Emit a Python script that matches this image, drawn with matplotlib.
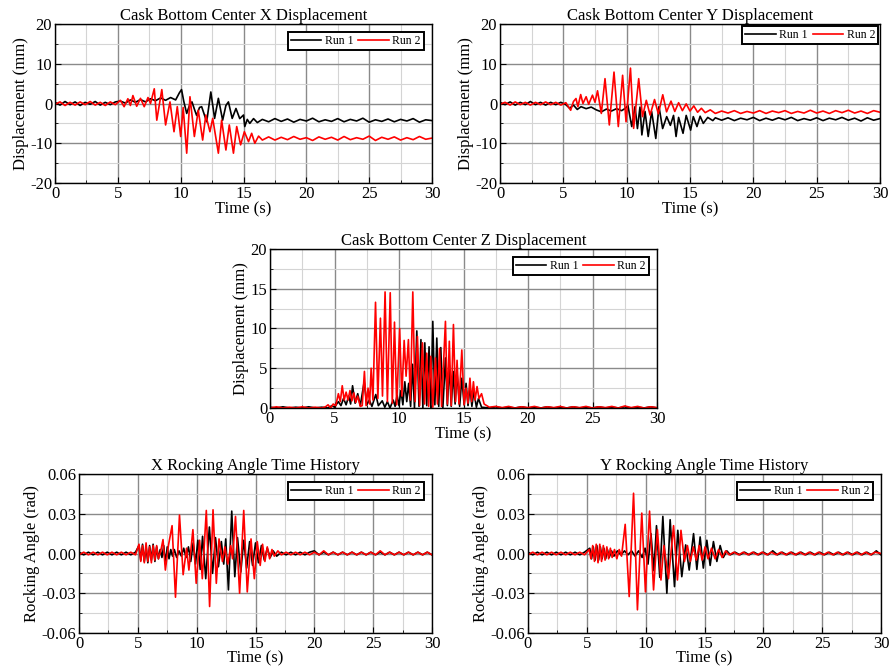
import matplotlib
matplotlib.use("Agg")
import matplotlib.pyplot as plt
from matplotlib.ticker import MultipleLocator, FormatStrFormatter

plt.rcParams['font.family'] = ['Liberation Serif', 'DejaVu Serif']
plt.rcParams['axes.unicode_minus'] = False

# ---- data: (time s, value) ----
# X displacement (mm)
xd_run1 = [(0, 0.3), (0.4, -0.4), (0.8, 0.5), (1.2, -0.3), (1.6, 0.4), (2.0, -0.5), (2.4, 0.3), (2.8, -0.2),
           (3.2, 0.5), (3.6, -0.4), (4.0, 0.3), (4.4, -0.3), (4.8, 0.4), (5.2, 0.6), (5.6, 0.1), (6.0, 0.9),
           (6.4, 0.3), (6.8, 1.0), (7.2, 0.4), (7.6, 1.2), (8.0, 0.7), (8.4, 1.4), (8.8, 0.8), (9.2, 1.5),
           (9.6, 0.9), (9.9, 2.7), (10.07, 3.5), (10.25, 0.5), (10.48, -2.5), (10.7, -0.5), (10.9, 0.4),
           (11.1, -1.5), (11.27, -3.0), (11.5, -1.0), (11.67, -0.8), (11.85, -2.5), (12.07, -4.6), (12.4, 2.9),
           (12.7, -3.75), (13.0, 1.3), (13.34, -4.2), (13.6, -0.5), (13.8, 0.4), (14.1, -3.75), (14.4, -1.25),
           (14.7, -3.8), (15.0, -2.9), (15.1, -5.8), (15.3, -4.0), (15.5, -5.0), (15.8, -3.8), (16.1, -4.8),
           (16.5, -4.0), (17.0, -4.6), (17.5, -3.8), (18.0, -4.5), (18.5, -3.9), (19.0, -4.7), (19.5, -4.0),
           (20.0, -4.4), (20.5, -3.7), (21.0, -4.6), (21.5, -4.1), (22.0, -4.5), (22.5, -3.8), (23.0, -4.6),
           (23.5, -4.0), (24.0, -4.4), (24.5, -3.7), (25.0, -4.7), (25.5, -4.1), (26.0, -4.5), (26.5, -3.9),
           (27.0, -4.6), (27.5, -4.0), (28.0, -4.4), (28.5, -3.8), (29.0, -4.7), (29.5, -4.1), (30.0, -4.3)]
xd_run2 = [(0, -0.2), (0.4, 0.4), (0.8, -0.5), (1.2, 0.3), (1.6, -0.4), (2.0, 0.4), (2.4, -0.3), (2.8, 0.5),
           (3.2, -0.4), (3.6, 0.3), (4.0, -0.5), (4.4, 0.4), (4.8, -0.3), (5.2, 0.8), (5.5, -0.8), (5.8, 1.2),
           (6.0, -0.5), (6.2, 2.0), (6.5, -0.7), (6.8, 1.3), (7.1, -0.8), (7.4, 1.5), (7.6, 0.0), (7.9, 3.7),
           (8.1, -4.2), (8.5, 3.5), (8.8, -5.4), (9.15, 0.4), (9.47, -7.1), (9.73, -0.8), (10.0, -8.3),
           (10.2, -1.0), (10.48, -12.5), (10.74, 1.7), (11.09, -8.3), (11.4, -1.7), (11.75, -9.2), (12.0, -2.9),
           (12.33, -7.1), (12.55, -3.75), (13.0, -12.5), (13.26, -4.2), (13.6, -11.7), (13.87, -5.4),
           (14.2, -12.5), (14.46, -5.8), (14.77, -10.4), (15.07, -7.1), (15.4, -9.6), (15.65, -7.5),
           (15.9, -10.0), (16.2, -8.2), (16.5, -9.2), (17.0, -8.4), (17.5, -9.2), (18.0, -8.5), (18.5, -9.1),
           (19.0, -8.3), (19.5, -9.0), (20.0, -8.6), (20.5, -9.3), (21.0, -8.4), (21.5, -9.0), (22.0, -8.5),
           (22.5, -9.2), (23.0, -8.3), (23.5, -9.1), (24.0, -8.6), (24.5, -9.0), (25.0, -8.2), (25.5, -9.3),
           (26.0, -8.5), (26.5, -9.0), (27.0, -8.4), (27.5, -9.2), (28.0, -8.6), (28.5, -9.1), (29.0, -8.3),
           (29.5, -9.0), (30.0, -8.7)]

# Y displacement (mm)
yd_run1 = [(0, 0.3), (0.4, -0.3), (0.8, 0.4), (1.2, -0.4), (1.6, 0.3), (2.0, -0.3), (2.4, 0.5), (2.8, -0.3),
           (3.2, 0.3), (3.6, -0.4), (4.0, 0.3), (4.4, -0.3), (4.8, 0.3), (5.2, -0.3), (5.5, -1.2), (5.8, -0.4),
           (6.1, -1.5), (6.4, -0.8), (6.8, -1.3), (7.2, -0.9), (7.6, -1.6), (8.0, -2.1), (8.4, -1.4),
           (8.8, -1.9), (9.2, -1.3), (9.6, -1.8), (9.9, -1.2), (10.1, -0.5), (10.4, -5.8), (10.66, -0.8),
           (10.85, -6.3), (11.05, -0.9), (11.2, -7.9), (11.45, -2.0), (11.7, -8.3), (11.97, -2.0), (12.3, -8.8),
           (12.55, -0.8), (12.84, -6.3), (13.16, -3.3), (13.45, -5.5), (13.7, -3.0), (13.9, -8.3), (14.1, -3.5),
           (14.45, -7.5), (14.7, -3.0), (15.05, -6.7), (15.26, -3.3), (15.55, -5.8), (15.8, -3.2), (16.05, -5.0),
           (16.4, -3.5), (16.8, -4.3), (17.0, -3.6), (17.5, -4.2), (18.0, -3.6), (18.5, -4.3), (19.0, -3.7),
           (19.5, -4.1), (20.0, -3.5), (20.5, -4.3), (21.0, -3.7), (21.5, -4.2), (22.0, -3.6), (22.5, -4.1),
           (23.0, -3.5), (23.5, -4.3), (24.0, -3.8), (24.5, -4.2), (25.0, -3.6), (25.5, -4.3), (26.0, -3.7),
           (26.5, -4.1), (27.0, -3.5), (27.5, -4.2), (28.0, -3.7), (28.5, -4.4), (29.0, -3.6), (29.5, -4.2),
           (30.0, -3.8)]
yd_run2 = [(0, -0.2), (0.4, 0.3), (0.8, -0.4), (1.2, 0.4), (1.6, -0.3), (2.0, 0.3), (2.4, -0.4), (2.8, 0.3),
           (3.2, -0.3), (3.6, 0.4), (4.0, -0.3), (4.4, 0.3), (4.8, -0.4), (5.2, 0.2), (5.58, -1.7), (5.8, 0.5),
           (6.0, 1.25), (6.15, -0.8), (6.37, 2.25), (6.55, 0.0), (6.8, 1.7), (7.0, -0.2), (7.3, 2.1), (7.5, 0.3),
           (7.7, 3.2), (8.0, -2.5), (8.29, 6.25), (8.63, -5.4), (9.0, 7.9), (9.34, -5.8), (9.68, 7.1),
           (9.95, -4.6), (10.3, 8.9), (10.55, -6.25), (10.95, 6.25), (11.25, -3.3), (11.55, 0.8), (11.85, -2.9),
           (12.2, 1.0), (12.5, -2.6), (12.85, 2.2), (13.15, -2.1), (13.5, 0.6), (13.8, -2.0), (14.1, 0.2),
           (14.4, -1.8), (14.7, -0.1), (15.0, -1.9), (15.3, -0.6), (15.6, -2.2), (15.9, -1.2), (16.2, -2.3),
           (16.6, -1.6), (17.0, -2.5), (17.5, -1.9), (18.0, -2.4), (18.5, -1.8), (19.0, -2.5), (19.5, -2.0),
           (20.0, -2.4), (20.5, -1.8), (21.0, -2.5), (21.5, -1.9), (22.0, -2.3), (22.5, -1.8), (23.0, -2.5),
           (23.5, -2.0), (24.0, -2.4), (24.5, -1.7), (25.0, -2.4), (25.5, -1.9), (26.0, -2.5), (26.5, -1.8),
           (27.0, -2.3), (27.5, -1.7), (28.0, -2.4), (28.5, -1.9), (29.0, -2.5), (29.5, -1.8), (30.0, -2.2)]

# Z displacement (mm)
zd_run1 = [(0, 0.1), (0.5, 0.0), (1.0, 0.15), (1.5, 0.0), (2.0, 0.1), (2.5, 0.0), (3.0, 0.15), (3.5, 0.0),
           (4.0, 0.1), (4.5, 0.0), (4.8, 0.3), (5.0, 0.1), (5.3, 0.8), (5.5, 0.3), (5.7, 1.2), (5.9, 0.4),
           (6.1, 1.5), (6.25, 0.5), (6.4, 2.8), (6.6, 0.6), (6.8, 1.8), (7.0, 0.3), (7.3, 3.3), (7.5, 0.4),
           (7.7, 1.0), (7.9, 0.2), (8.2, 1.7), (8.4, 0.3), (8.7, 0.9), (8.9, 0.1), (9.1, 0.8), (9.3, 0.0),
           (9.55, 1.0), (9.7, 0.2), (9.85, 1.6), (10.0, 0.3), (10.15, 2.2), (10.3, 0.4), (10.45, 3.3), (10.6, 0.8),
           (10.75, 3.1), (10.9, 0.2), (11.05, 5.5), (11.2, 0.0), (11.38, 9.7), (11.55, 0.2), (11.7, 8.6),
           (11.85, 0.0), (12.0, 8.2), (12.15, 0.3), (12.33, 7.7), (12.47, 0.0), (12.62, 10.9), (12.78, 0.4),
           (12.93, 8.8), (13.08, 0.2), (13.24, 7.6), (13.4, 0.0), (13.6, 6.3), (13.75, 0.3), (13.9, 5.4),
           (14.05, 0.2), (14.2, 4.6), (14.35, 0.5), (14.5, 4.4), (14.7, 0.2), (14.87, 3.75), (15.05, 0.4),
           (15.2, 3.1), (15.35, 0.3), (15.5, 2.7), (15.65, 0.2), (15.8, 2.1), (16.0, 0.1), (16.16, 1.2),
           (16.4, 0.1), (17.0, 0.0), (17.5, 0.15), (18.0, 0.0), (18.5, 0.1), (19.0, 0.0), (19.5, 0.15),
           (20.0, 0.0), (20.5, 0.1), (21.0, 0.0), (21.5, 0.15), (22.0, 0.0), (22.5, 0.1), (23.0, 0.0),
           (23.5, 0.15), (24.0, 0.0), (24.5, 0.1), (25.0, 0.0), (25.5, 0.15), (26.0, 0.0), (26.5, 0.1),
           (27.0, 0.0), (27.5, 0.15), (28.0, 0.0), (28.5, 0.1), (29.0, 0.0), (29.5, 0.15), (30.0, 0.0)]
zd_run2 = [(0, 0.0), (0.5, 0.15), (1.0, 0.0), (1.5, 0.1), (2.0, 0.0), (2.5, 0.15), (3.0, 0.0), (3.5, 0.1),
           (4.0, 0.0), (4.3, 0.15), (4.5, 0.4), (4.7, 0.0), (4.9, 0.5), (5.1, 0.3), (5.3, 1.8), (5.45, 0.8),
           (5.6, 2.8), (5.75, 1.0), (5.9, 2.0), (6.05, 1.0), (6.2, 2.2), (6.35, 0.9), (6.5, 1.9), (6.65, 0.7),
           (6.8, 1.5), (7.0, 0.2), (7.15, 0.3), (7.32, 4.6), (7.45, 0.3), (7.6, 2.5), (7.72, 0.5), (7.84, 5.0),
           (7.98, 1.0), (8.18, 13.3), (8.36, 1.2), (8.56, 11.3), (8.72, 1.5), (8.92, 14.6), (9.1, 0.8),
           (9.32, 14.5), (9.48, 0.6), (9.65, 10.8), (9.82, 0.4), (10.05, 10.0), (10.22, 1.5), (10.4, 8.5),
           (10.55, 4.0), (10.73, 8.6), (10.88, 1.0), (11.07, 14.6), (11.25, 0.8), (11.43, 9.0), (11.6, 0.3),
           (11.82, 8.2), (11.98, 0.5), (12.15, 6.9), (12.3, 0.2), (12.46, 6.5), (12.62, 0.1), (12.83, 6.3),
           (12.98, 0.5), (13.14, 7.5), (13.3, 0.2), (13.6, 10.9), (13.75, 0.5), (13.9, 8.4), (14.05, 0.3),
           (14.22, 10.5), (14.38, 0.8), (14.5, 6.0), (14.65, 0.5), (14.87, 7.3), (15.05, 0.4), (15.2, 2.5),
           (15.35, 0.6), (15.5, 3.75), (15.63, 0.8), (15.77, 3.3), (15.9, 1.0), (16.05, 2.7), (16.2, 1.2),
           (16.4, 1.8), (16.6, 0.5), (16.8, 0.3), (17.0, 0.1), (17.5, 0.2), (18.0, 0.05), (18.5, 0.2),
           (19.0, 0.0), (19.5, 0.15), (20.0, 0.05), (20.5, 0.2), (21.0, 0.0), (21.5, 0.15), (22.0, 0.05),
           (22.5, 0.2), (23.0, 0.0), (23.5, 0.15), (24.0, 0.05), (24.5, 0.2), (25.0, 0.0), (25.5, 0.15),
           (26.0, 0.05), (26.5, 0.2), (27.0, 0.0), (27.5, 0.25), (28.0, 0.05), (28.5, 0.2), (29.0, 0.0),
           (29.5, 0.15), (30.0, 0.05)]

# X rocking angle (rad)
xr_run1 = [(0, 0.001), (0.4, -0.001), (0.8, 0.001), (1.2, -0.001), (1.6, 0.001), (2.0, -0.001), (2.4, 0.001),
           (2.8, -0.001), (3.2, 0.001), (3.6, -0.001), (4.0, 0.001), (4.4, -0.001), (4.8, 0.001), (5.1, 0.006),
           (5.25, -0.005), (5.4, 0.007), (5.55, -0.006), (5.7, 0.005), (5.85, -0.007), (6.0, 0.006),
           (6.15, -0.005), (6.3, 0.007), (6.45, -0.006), (6.6, 0.005), (6.75, -0.004), (6.9, 0.003),
           (7.05, -0.003), (7.2, 0.006), (7.35, -0.008), (7.5, 0.005), (7.65, -0.004), (7.8, 0.003),
           (7.95, -0.002), (8.1, 0.003), (8.3, -0.003), (8.5, 0.002), (8.7, -0.002), (8.9, 0.004), (9.1, -0.003),
           (9.3, 0.005), (9.5, -0.006), (9.7, 0.008), (9.9, -0.008), (10.1, 0.010), (10.3, -0.012), (10.5, 0.013),
           (10.77, -0.019), (11.08, 0.020), (11.35, -0.015), (11.6, 0.012), (11.85, -0.010), (12.1, 0.009),
           (12.3, -0.008), (12.47, 0.011), (12.7, -0.0275), (12.98, 0.032), (13.24, -0.0175), (13.47, 0.012),
           (13.75, -0.014), (14.0, 0.010), (14.25, -0.011), (14.5, 0.009), (14.75, -0.009), (15.0, 0.008),
           (15.25, -0.007), (15.5, 0.006), (15.75, -0.005), (16.0, 0.004), (16.25, -0.003), (16.5, 0.002),
           (16.8, -0.002), (17.2, 0.001), (17.6, -0.001), (18.0, 0.001), (18.4, -0.001), (18.8, 0.001),
           (19.2, -0.001), (19.6, 0.001), (20.0, 0.002), (20.4, -0.001), (20.8, 0.001), (21.2, -0.001),
           (21.6, 0.001), (22.0, -0.001), (22.4, 0.001), (22.8, -0.001), (23.2, 0.001), (23.6, -0.001),
           (24.0, 0.001), (24.4, -0.001), (24.8, 0.001), (25.2, -0.001), (25.6, 0.001), (26.0, -0.001),
           (26.4, 0.001), (26.8, -0.001), (27.2, 0.001), (27.6, -0.001), (28.0, 0.001), (28.4, -0.001),
           (28.8, 0.001), (29.2, -0.001), (29.6, 0.001), (30.0, -0.001)]
xr_run2 = [(0, -0.001), (0.4, 0.001), (0.8, -0.001), (1.2, 0.001), (1.6, -0.001), (2.0, 0.001), (2.4, -0.001),
           (2.8, 0.001), (3.2, -0.001), (3.6, 0.001), (4.0, -0.001), (4.4, 0.001), (4.8, -0.001), (5.1, 0.007),
           (5.25, -0.006), (5.4, 0.006), (5.55, -0.007), (5.7, 0.008), (5.85, -0.006), (6.0, 0.005),
           (6.15, -0.007), (6.3, 0.006), (6.45, -0.005), (6.6, 0.006), (6.75, -0.004), (6.95, 0.002),
           (7.14, 0.0105), (7.34, -0.0125), (7.6, 0.006), (7.91, 0.021), (8.2, -0.033), (8.54, 0.029),
           (8.85, -0.016), (9.14, 0.004), (9.34, -0.0125), (9.68, 0.018), (9.96, -0.0225), (10.25, 0.010),
           (10.48, -0.019), (10.82, 0.0325), (11.1, -0.040), (11.39, 0.033), (11.67, -0.0225), (11.9, 0.011),
           (12.19, -0.006), (12.4, 0.005), (12.65, -0.008), (12.9, 0.006), (13.05, -0.004), (13.3, 0.028),
           (13.65, -0.030), (14.0, 0.0325), (14.3, -0.029), (14.62, 0.011), (14.9, -0.019), (15.15, 0.009),
           (15.4, -0.009), (15.6, 0.007), (15.8, -0.006), (16.0, 0.005), (16.2, -0.004), (16.4, 0.003),
           (16.6, -0.002), (16.9, 0.002), (17.2, -0.001), (17.6, 0.001), (18.0, -0.001), (18.4, 0.001),
           (18.8, -0.001), (19.2, 0.001), (19.6, -0.001), (20.0, 0.001), (20.4, -0.001), (20.8, 0.002),
           (21.2, -0.001), (21.6, 0.001), (22.0, -0.001), (22.4, 0.001), (22.8, -0.001), (23.2, 0.001),
           (23.6, -0.001), (24.0, 0.001), (24.4, -0.001), (24.8, 0.001), (25.2, -0.001), (25.6, 0.002),
           (26.0, -0.001), (26.4, 0.001), (26.8, -0.001), (27.2, 0.001), (27.6, -0.001), (28.0, 0.001),
           (28.4, -0.001), (28.8, 0.001), (29.2, -0.001), (29.6, 0.001), (30.0, -0.001)]

# Y rocking angle (rad)
yr_run1 = [(0, 0.001), (0.4, -0.001), (0.8, 0.001), (1.2, -0.001), (1.6, 0.001), (2.0, -0.001), (2.4, 0.001),
           (2.8, -0.001), (3.2, 0.001), (3.6, -0.001), (4.0, 0.001), (4.4, -0.001), (4.8, 0.001), (5.25, 0.004),
           (5.4, -0.004), (5.55, 0.005), (5.7, -0.005), (5.85, 0.006), (6.0, -0.005), (6.15, 0.005),
           (6.3, -0.004), (6.45, 0.004), (6.6, -0.004), (6.75, 0.003), (6.9, -0.003), (7.1, 0.002),
           (7.3, -0.002), (7.6, 0.002), (7.9, -0.001), (8.2, 0.002), (8.5, -0.001), (8.8, 0.002), (9.1, -0.002),
           (9.4, 0.002), (9.7, -0.003), (9.95, 0.004), (10.2, -0.008), (10.45, 0.015), (10.7, -0.013),
           (10.92, 0.021), (11.2, -0.018), (11.46, 0.028), (11.8, -0.030), (12.08, 0.0255), (12.45, -0.025),
           (12.73, 0.0175), (13.07, -0.0175), (13.4, 0.0065), (13.7, -0.0125), (14.07, 0.015), (14.35, -0.012),
           (14.63, 0.0125), (14.9, -0.011), (15.2, 0.010), (15.48, -0.009), (15.76, 0.009), (16.05, -0.006),
           (16.33, 0.006), (16.6, -0.003), (16.9, 0.002), (17.2, -0.001), (17.6, 0.001), (18.0, -0.001),
           (18.4, 0.001), (18.8, -0.001), (19.2, 0.001), (19.6, -0.001), (20.0, 0.001), (20.4, -0.001),
           (20.8, 0.002), (21.2, -0.001), (21.6, 0.001), (22.0, -0.001), (22.4, 0.001), (22.8, -0.001),
           (23.2, 0.001), (23.6, -0.001), (24.0, 0.001), (24.4, -0.001), (24.8, 0.001), (25.2, -0.001),
           (25.6, 0.001), (26.0, -0.001), (26.4, 0.001), (26.8, -0.001), (27.2, 0.001), (27.6, -0.001),
           (28.0, 0.001), (28.4, -0.001), (28.8, 0.001), (29.2, -0.001), (29.6, 0.002), (30.0, -0.001)]
yr_run2 = [(0, -0.001), (0.4, 0.001), (0.8, -0.001), (1.2, 0.001), (1.6, -0.001), (2.0, 0.001), (2.4, -0.001),
           (2.8, 0.001), (3.2, -0.001), (3.6, 0.001), (4.0, -0.001), (4.4, 0.001), (4.8, -0.001), (5.2, 0.003),
           (5.35, -0.004), (5.5, 0.006), (5.65, -0.006), (5.8, 0.007), (5.95, -0.007), (6.1, 0.007),
           (6.25, -0.006), (6.4, 0.006), (6.55, -0.005), (6.7, 0.005), (6.85, -0.004), (7.0, 0.004),
           (7.15, -0.003), (7.35, 0.003), (7.55, -0.004), (7.75, 0.003), (7.95, -0.002), (8.26, 0.022),
           (8.6, -0.0325), (8.97, 0.0455), (9.3, -0.0425), (9.67, 0.0305), (9.98, -0.029), (10.33, 0.032),
           (10.67, -0.0275), (11.0, 0.018), (11.3, -0.020), (11.55, 0.006), (11.94, -0.019), (12.37, 0.021),
           (12.7, -0.020), (13.0, 0.0175), (13.3, -0.006), (13.55, 0.006), (13.8, -0.006), (14.05, 0.005),
           (14.3, -0.005), (14.55, 0.006), (14.8, -0.005), (15.05, 0.005), (15.3, -0.004), (15.6, 0.004),
           (15.9, -0.004), (16.2, 0.003), (16.5, -0.003), (16.8, 0.002), (17.1, -0.001), (17.5, 0.001),
           (17.9, -0.001), (18.3, 0.001), (18.7, -0.001), (19.1, 0.001), (19.5, -0.001), (19.9, 0.001),
           (20.3, -0.001), (20.7, 0.001), (21.1, -0.001), (21.5, 0.001), (21.9, -0.001), (22.3, 0.001),
           (22.7, -0.001), (23.1, 0.001), (23.5, -0.001), (23.9, 0.001), (24.3, -0.001), (24.7, 0.001),
           (25.1, -0.001), (25.5, 0.001), (25.9, -0.001), (26.3, 0.001), (26.7, -0.001), (27.1, 0.001),
           (27.5, -0.001), (27.9, 0.001), (28.3, -0.001), (28.7, 0.001), (29.1, -0.001), (29.5, 0.001),
           (30.0, 0.0)]

titles = ["Cask Bottom Center X Displacement", "Cask Bottom Center Y Displacement",
          "Cask Bottom Center Z Displacement", "X Rocking Angle Time History", "Y Rocking Angle Time History"]
series = [(xd_run1, xd_run2), (yd_run1, yd_run2), (zd_run1, zd_run2), (xr_run1, xr_run2), (yr_run1, yr_run2)]

W, H = 890, 672
# axes boxes in pixels: left, right, top, bottom
boxes = [(55, 432, 24, 183), (500, 880, 24, 183), (270, 657, 249, 408), (79, 432, 474, 633), (528, 881, 474, 633)]

fig = plt.figure(figsize=(W / 100, H / 100), dpi=100)

for i, (title, (r1, r2), (l, r, t, b)) in enumerate(zip(titles, series, boxes)):
    ax = fig.add_axes([l / W, 1 - b / H, (r - l) / W, (b - t) / H])
    ax.plot([p[0] for p in r1], [p[1] for p in r1], color='black', lw=1.2, label='Run 1')
    ax.plot([p[0] for p in r2], [p[1] for p in r2], color='#ff0000', lw=1.2, label='Run 2')
    ax.set_xlim(0, 30)
    ax.xaxis.set_major_locator(MultipleLocator(5))
    ax.xaxis.set_minor_locator(MultipleLocator(2.5))
    if i < 2:
        ax.set_ylim(-20, 20)
        ax.yaxis.set_major_locator(MultipleLocator(10))
        ax.yaxis.set_minor_locator(MultipleLocator(5))
        ax.set_ylabel("Displacement (mm)", fontsize=12, labelpad=1)
    elif i == 2:
        ax.set_ylim(0, 20)
        ax.yaxis.set_major_locator(MultipleLocator(5))
        ax.yaxis.set_minor_locator(MultipleLocator(2.5))
        ax.set_ylabel("Displacement (mm)", fontsize=12, labelpad=1)
    else:
        ax.set_ylim(-0.06, 0.06)
        ax.yaxis.set_major_locator(MultipleLocator(0.03))
        ax.yaxis.set_minor_locator(MultipleLocator(0.015))
        ax.yaxis.set_major_formatter(FormatStrFormatter('%.2f'))
        ax.set_ylabel("Rocking Angle (rad)", fontsize=12, labelpad=1)
    ax.grid(which='major', color='#8a8a8a', lw=1.0)
    ax.grid(which='minor', color='#d4d4d4', lw=0.8)
    ax.set_axisbelow(True)
    ax.tick_params(which='both', direction='in', labelsize=12, pad=2)
    ax.tick_params(which='major', length=4)
    ax.tick_params(which='minor', length=2.5)
    for s in ax.spines.values():
        s.set_linewidth(1.0)
    ax.set_title(title, fontsize=12, pad=2)
    ax.set_xlabel("Time (s)", fontsize=12, labelpad=-1 if i >= 3 else 0)
    leg = ax.legend(loc='upper right', ncol=2, fontsize=8.5, frameon=True, fancybox=False,
                    edgecolor='black', framealpha=1, handlelength=2.6, handletextpad=0.3,
                    columnspacing=0.4, borderpad=0.25, borderaxespad=0.7 if i != 1 else 0.15)
    leg.get_frame().set_linewidth(1.4)

fig.savefig("out.png", dpi=100)
